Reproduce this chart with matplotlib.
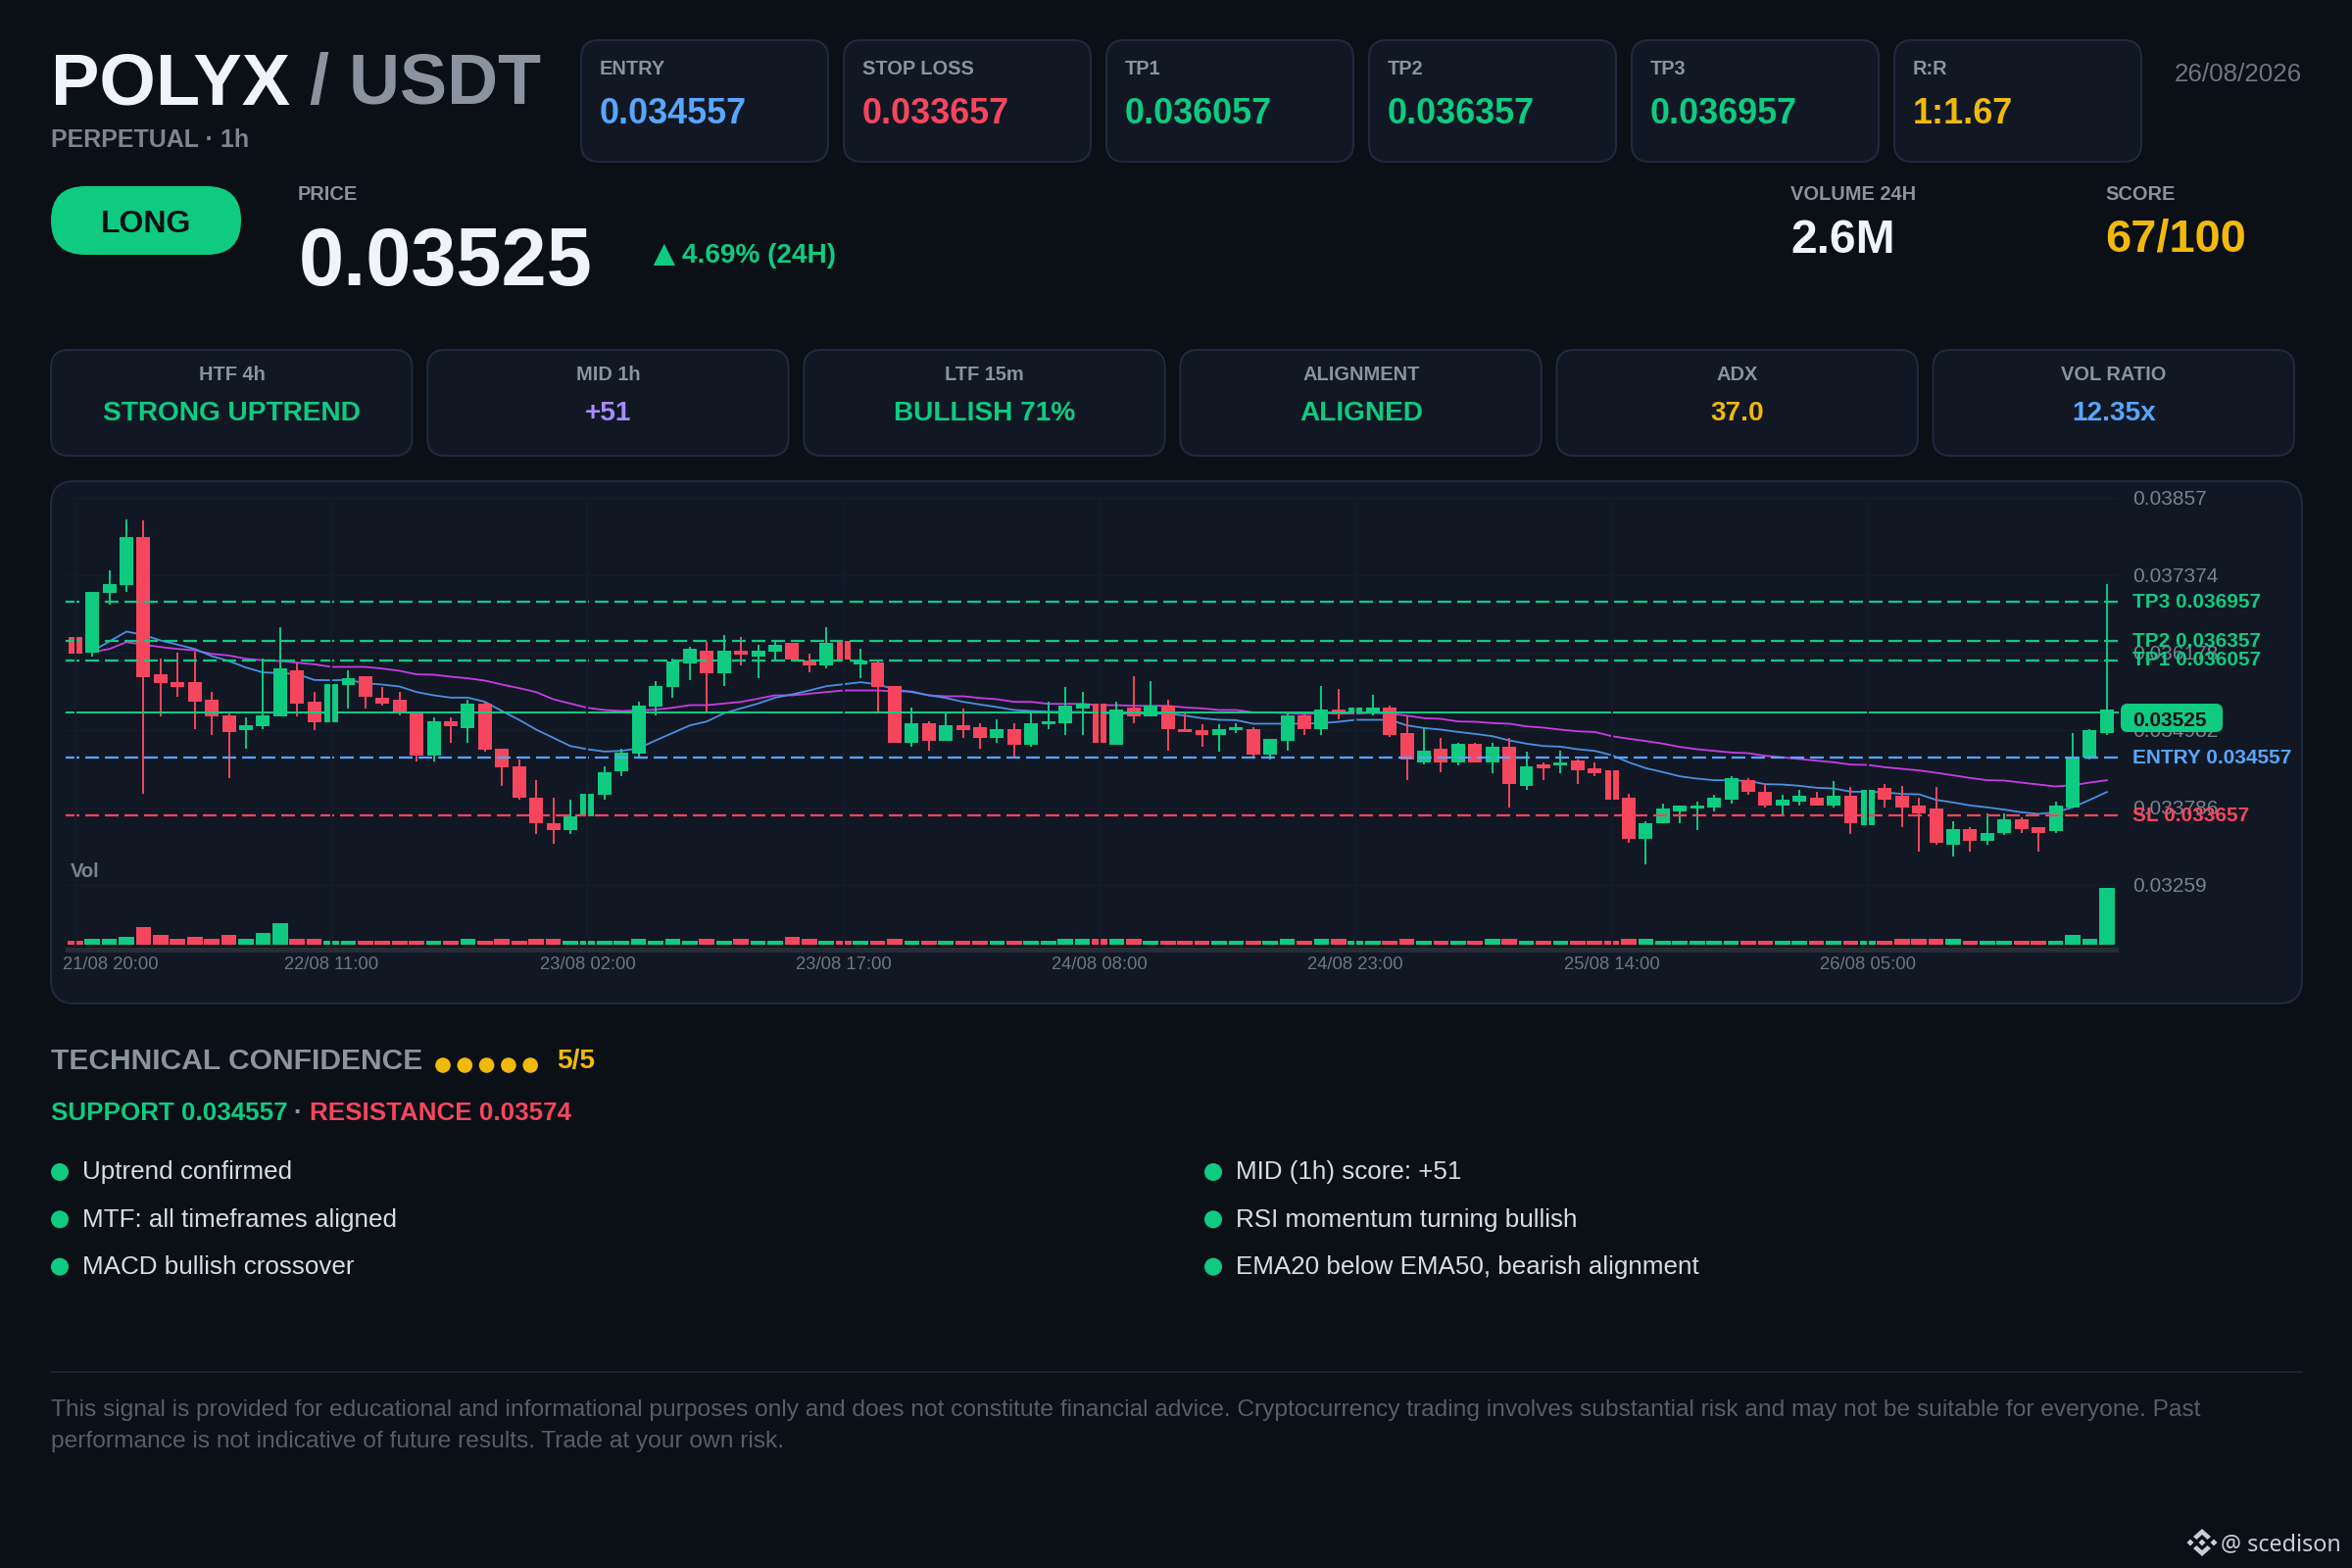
import numpy as np
import matplotlib
matplotlib.use("Agg")
import matplotlib.pyplot as plt
from matplotlib.patches import FancyBboxPatch, Rectangle, Circle, Polygon

plt.rcParams['font.family'] = ['Liberation Sans', 'DejaVu Sans']

BG = '#0b0f16'
CARD = '#111824'
EDGE = '#1f2a3d'
GREEN = '#0ecb81'
RED = '#f6465d'
BLUE = '#58a6ff'
GOLD = '#f0b90b'
PURPLE = '#a78bfa'
GRAY = '#8b949e'
WHITE = '#f0f4f8'

# --- candles, in millionths of USDT ---
opens = [36427, 36175, 37098, 37219, 37966, 35847, 35725, 35725, 35453, 35211, 34979, 35039, 35191, 35907, 35423,
         35100, 35675, 35816, 35483, 35453, 35246, 34585, 35120, 35009, 35392, 34696, 34424, 33939, 33551, 33435,
         33652, 33980, 34343, 34621, 35342, 35645, 36008, 36215, 35852, 36215, 36124, 36185, 36336, 36049, 35973,
         36366, 35998, 36033, 35670, 34792, 35095, 34822, 35059, 35029, 34853, 34999, 34762, 35065, 35090, 35317,
         35392, 34762, 35332, 35186, 35362, 34999, 34974, 34913, 34974, 35004, 34610, 34822, 35216, 35004, 35302,
         35246, 35246, 35332, 34938, 34489, 34696, 34489, 34762, 34489, 34726, 34126, 34454, 34429, 34514, 34398,
         34368, 33944, 33308, 33551, 33732, 33763, 33793, 33914, 34217, 34030, 33823, 33884, 33939, 33823, 33970,
         33520, 34091, 33970, 33818, 33763, 33218, 33455, 33278, 33399, 33606, 33485, 33424, 33793, 34560, 34938]
highs = [36427, 37118, 37451, 38243, 38218, 36089, 36175, 36200, 35579, 35241, 35181, 36089, 36578, 36023, 35579,
         35695, 35907, 35816, 35640, 35579, 35256, 35181, 35181, 35458, 35428, 34696, 34520, 34217, 33944, 33914,
         34005, 34424, 34696, 35423, 35731, 36089, 36275, 36341, 36457, 36427, 36306, 36366, 36336, 36159, 36578,
         36366, 36245, 36059, 35670, 35332, 35125, 35256, 35307, 35095, 35155, 35095, 35256, 35428, 35640, 35579,
         35392, 35428, 35821, 35731, 35458, 35246, 35065, 35065, 35095, 35034, 34848, 35256, 35246, 35670, 35610,
         35332, 35519, 35367, 35186, 35014, 34853, 34792, 34792, 34792, 34853, 34641, 34489, 34671, 34520, 34489,
         34368, 34005, 33581, 33853, 33818, 33884, 33975, 34277, 34247, 34156, 33975, 34065, 34035, 34187, 34096,
         34065, 34156, 34126, 33944, 34096, 33581, 33490, 33702, 33702, 33641, 33485, 33884, 34943, 35004, 37244]
lows = [36159, 36124, 36916, 37123, 34005, 35191, 35493, 35004, 34913, 34247, 34701, 35004, 35191, 35191, 34974,
        35100, 35307, 35307, 35367, 35216, 34494, 34494, 34792, 34792, 34646, 34126, 33914, 33374, 33223, 33374,
        33652, 33914, 34277, 34570, 35216, 35488, 35761, 35276, 35670, 35973, 35791, 36043, 36049, 35882, 35942,
        36064, 35791, 35276, 34792, 34731, 34671, 34822, 34853, 34701, 34792, 34580, 34731, 35004, 34913, 34913,
        34792, 34762, 35095, 35186, 34671, 34948, 34731, 34641, 34943, 34570, 34520, 34671, 34913, 34913, 35155,
        35246, 35216, 34883, 34217, 34459, 34338, 34429, 34489, 34308, 33793, 34065, 34217, 34308, 34156, 34277,
        33914, 33248, 32915, 33551, 33551, 33430, 33732, 33853, 33975, 33793, 33662, 33823, 33823, 33793, 33374,
        33520, 33793, 33490, 33097, 33218, 33036, 33097, 33218, 33369, 33399, 33097, 33399, 33793, 34520, 34913]
closes = [36159, 37118, 37244, 37966, 35796, 35705, 35640, 35428, 35191, 34948, 35059, 35206, 35937, 35397, 35100,
          35695, 35786, 35493, 35392, 35276, 34585, 35120, 35039, 35392, 34676, 34403, 33944, 33551, 33435, 33647,
          34005, 34333, 34636, 35362, 35670, 36043, 36245, 35852, 36215, 36154, 36215, 36301, 36064, 35973, 36336,
          36064, 36059, 35640, 34792, 35090, 34822, 35059, 34979, 34853, 34999, 34762, 35090, 35120, 35362, 35392,
          34792, 35302, 35186, 35362, 35004, 34948, 34913, 35004, 35029, 34610, 34848, 35216, 35004, 35302, 35226,
          35332, 35332, 34913, 34525, 34671, 34489, 34762, 34489, 34726, 34156, 34424, 34398, 34484, 34368, 34308,
          33914, 33308, 33551, 33763, 33818, 33818, 33944, 34247, 34035, 33823, 33909, 33970, 33823, 33970, 33551,
          34065, 33914, 33793, 33702, 33248, 33455, 33278, 33394, 33606, 33460, 33399, 33818, 34570, 34974, 35302]

# volume in arbitrary units
volumes = [60, 90, 90, 120, 270, 150, 90, 120, 90, 150, 90, 180, 330, 90, 90, 60, 60, 60, 60, 60, 60, 60, 60, 90,
           60, 90, 60, 90, 90, 60, 60, 60, 60, 90, 60, 90, 60, 90, 60, 90, 60, 60, 120, 90, 60, 60, 60, 60, 90, 60,
           60, 60, 60, 60, 60, 60, 60, 60, 90, 90, 90, 90, 90, 60, 60, 60, 60, 60, 60, 60, 60, 90, 60, 90, 90, 60,
           60, 60, 90, 60, 60, 60, 60, 90, 90, 60, 60, 60, 60, 60, 60, 90, 90, 60, 60, 60, 60, 60, 60, 60, 60, 60,
           60, 60, 60, 60, 60, 90, 90, 90, 90, 60, 60, 60, 60, 60, 60, 150, 90, 870]

# the two moving averages start at the second candle
ema_fast = [36200, 36351, 36503, 36452, 36366, 36301, 36235, 36124, 36049, 35948, 35872, 35862, 35847, 35756, 35751,
            35756, 35705, 35685, 35655, 35569, 35519, 35483, 35483, 35418, 35276, 35140, 34989, 34863, 34736, 34686,
            34651, 34661, 34701, 34822, 34938, 35054, 35115, 35241, 35317, 35392, 35483, 35534, 35594, 35660, 35690,
            35721, 35690, 35609, 35569, 35519, 35478, 35418, 35377, 35337, 35292, 35276, 35266, 35261, 35261, 35246,
            35236, 35236, 35236, 35236, 35206, 35165, 35140, 35135, 35080, 35080, 35080, 35080, 35090, 35110, 35140,
            35140, 35140, 35054, 35014, 34989, 34953, 34923, 34888, 34822, 34772, 34736, 34726, 34686, 34661, 34595,
            34484, 34393, 34333, 34267, 34232, 34207, 34207, 34197, 34146, 34141, 34121, 34091, 34080, 34030, 34030,
            34020, 33995, 33990, 33904, 33864, 33818, 33788, 33753, 33712, 33687, 33712, 33788, 33904, 34025]
ema_slow = [36185, 36235, 36341, 36301, 36265, 36235, 36215, 36159, 36134, 36084, 36059, 36049, 36023, 35998, 35958,
            35958, 35958, 35932, 35897, 35842, 35837, 35806, 35781, 35746, 35685, 35630, 35569, 35458, 35392, 35327,
            35292, 35276, 35287, 35297, 35327, 35367, 35367, 35392, 35418, 35468, 35519, 35519, 35544, 35569, 35594,
            35594, 35594, 35579, 35579, 35519, 35504, 35504, 35478, 35458, 35418, 35418, 35387, 35387, 35387, 35367,
            35367, 35357, 35357, 35357, 35332, 35317, 35292, 35292, 35256, 35256, 35241, 35231, 35241, 35241, 35236,
            35246, 35236, 35206, 35165, 35155, 35115, 35110, 35090, 35080, 35039, 35019, 34989, 34963, 34953, 34888,
            34848, 34812, 34772, 34721, 34686, 34661, 34636, 34625, 34585, 34560, 34535, 34509, 34484, 34449, 34444,
            34408, 34383, 34358, 34323, 34283, 34242, 34207, 34202, 34171, 34141, 34111, 34131, 34171, 34207]

price_now = 0.03525
levels = [('TP3 0.036957', 0.036957, GREEN), ('TP2 0.036357', 0.036357, GREEN), ('TP1 0.036057', 0.036057, GREEN),
          ('ENTRY 0.034557', 0.034557, BLUE), ('SL 0.033657', 0.033657, RED)]
axis_ticks = [0.03857, 0.037374, 0.036178, 0.034982, 0.033786, 0.03259]
axis_tick_labels = ['0.03857', '0.037374', '0.036178', '0.034982', '0.033786', '0.03259']
time_ticks = [0, 15, 30, 45, 60, 75, 90, 105]
time_labels = ['21/08 20:00', '22/08 11:00', '23/08 02:00', '23/08 17:00',
               '24/08 08:00', '24/08 23:00', '25/08 14:00', '26/08 05:00']

top_cards = [('ENTRY', '0.034557', BLUE), ('STOP LOSS', '0.033657', RED), ('TP1', '0.036057', GREEN),
             ('TP2', '0.036357', GREEN), ('TP3', '0.036957', GREEN), ('R:R', '1:1.67', GOLD)]
mid_cards = [('HTF 4h', 'STRONG UPTREND', GREEN), ('MID 1h', '+51', PURPLE), ('LTF 15m', 'BULLISH 71%', GREEN),
             ('ALIGNMENT', 'ALIGNED', GREEN), ('ADX', '37.0', GOLD), ('VOL RATIO', '12.35x', BLUE)]
bullets_left = ['Uptrend confirmed', 'MTF: all timeframes aligned', 'MACD bullish crossover']
bullets_right = ['MID (1h) score: +51', 'RSI momentum turning bullish', 'EMA20 below EMA50, bearish alignment']
disclaimer = ['This signal is provided for educational and informational purposes only and does not constitute '
              'financial advice. Cryptocurrency trading involves substantial risk and may not be suitable for '
              'everyone. Past',
              'performance is not indicative of future results. Trade at your own risk.']

fig = plt.figure(figsize=(24, 16), dpi=100, facecolor=BG)

# page axes in pixels, y going down, everything outside the chart sits here
page = fig.add_axes([0, 0, 1, 1], zorder=0)
page.set_xlim(0, 2400)
page.set_ylim(1600, 0)
page.axis('off')


def txt(x, yc, s, px, color, weight='normal', ha='left', zorder=5, **kw):
    # yc is the middle of the capitals, px the font size in pixels
    return page.text(x, yc + 0.36 * px, s, fontsize=px * 0.72, color=color, fontweight=weight,
                     ha=ha, va='baseline', zorder=zorder, **kw)


def card(x0, y0, x1, y1, radius=18, face=CARD, edge=EDGE, lw=1.5):
    page.add_patch(FancyBboxPatch((x0, y0), x1 - x0, y1 - y0, boxstyle=f'round,pad=0,rounding_size={radius}',
                                  fc=face, ec=edge, lw=lw, zorder=2))


# header
txt(52, 80, 'POLYX', 74, WHITE, 'bold')
txt(316, 80, '/ USDT', 72, GRAY, 'bold')
txt(52, 141, 'PERPETUAL · 1h', 25, '#7d8590', 'bold')
txt(2349, 74, '26/08/2026', 26, '#6e7681', ha='right')

for i, (label, value, color) in enumerate(top_cards):
    x0 = 593 + i * 268
    card(x0, 41, x0 + 252, 165)
    txt(x0 + 19, 69, label, 20, GRAY, 'bold')
    txt(x0 + 19, 113, value, 36, color, 'bold')

card(52, 190, 246, 260, radius=35, face=GREEN, edge=GREEN, lw=0)
txt(149, 225, 'LONG', 32, BG, 'bold', ha='center')

txt(304, 197, 'PRICE', 20, GRAY, 'bold')
txt(305, 261, '0.03525', 83, WHITE, 'bold')
txt(658, 257, '▲', 38, GREEN, 'bold')
txt(696, 258, '4.69% (24H)', 28, GREEN, 'bold')
txt(1827, 197, 'VOLUME 24H', 20, GRAY, 'bold')
txt(1827, 241, '2.6M', 48, WHITE, 'bold')
txt(2148, 197, 'SCORE', 20, GRAY, 'bold')
txt(2148, 240, '67/100', 47, GOLD, 'bold')

for i, (label, value, color) in enumerate(mid_cards):
    x0 = 52 + i * 384.1
    card(x0, 357, x0 + 368.5, 465)
    txt(x0 + 184.5, 381, label, 20, GRAY, 'bold', ha='center')
    txt(x0 + 184.5, 419, value, 28, color, 'bold', ha='center')

# chart panel and the band under the volume pane
card(52, 491, 2349, 1024, radius=24)
page.add_patch(Rectangle((67, 967), 2095, 5, fc='#262d36', ec='none', zorder=3))

# price pane, scale taken from the TP and SL lines
ax = fig.add_axes([67 / 2400, 1 - 963.5 / 1600, 2095 / 2400, 459 / 1600], zorder=1)
ax.patch.set_alpha(0)
ax.axis('off')
ax.set_xlim(-0.56, 119.7)
ax.set_ylim(0.031674, 0.038622)

x = np.arange(len(opens))
o = np.array(opens) * 1e-6
h = np.array(highs) * 1e-6
l = np.array(lows) * 1e-6
c = np.array(closes) * 1e-6
colors = [GREEN if cc >= oo else RED for oo, cc in zip(o, c)]

ax.hlines(axis_ticks, -0.56, 119.7, color='#161e2b', lw=0.8, zorder=1)
ax.plot(x[1:], np.array(ema_slow) * 1e-6, color='#c83ce6', lw=1.3, zorder=2)
ax.plot(x[1:], np.array(ema_fast) * 1e-6, color='#4a90e2', lw=1.3, zorder=2)
ax.vlines(x, l, h, color=colors, lw=1.4, zorder=3)
ax.bar(x, np.maximum(np.abs(c - o), 1e-5), bottom=np.minimum(o, c), width=0.8, color=colors, zorder=4)

for label, value, color in levels:
    ax.plot([-0.56, 119.7], [value, value], color=color, lw=1.6, dashes=(6.3, 2.7), zorder=5)
ax.plot([-0.56, 119.7], [price_now, price_now], color=GREEN, lw=1.44, zorder=6)

# the vertical grid is painted over the candles in the reference
ax.vlines(time_ticks, 0.031674, axis_ticks[0], color='#141b28', lw=1.5, zorder=8)

# volume pane
vax = fig.add_axes([67 / 2400, 1 - 964 / 1600, 2095 / 2400, 58 / 1600], zorder=2)
vax.patch.set_alpha(0)
vax.axis('off')
vax.set_xlim(-0.56, 119.7)
vax.set_ylim(0, max(volumes))
vax.bar(x, volumes, width=0.9, color=colors)
vax.vlines(time_ticks, 0, max(volumes), color='#141b28', lw=1.5, zorder=8)

# labels of the right hand scale, then the level labels, then the price badge on top
yaxis_tr = ax.get_yaxis_transform()
for value, label in zip(axis_ticks, axis_tick_labels):
    ax.text(1.0067, value, label, transform=yaxis_tr, fontsize=15, color='#7a828c', va='center_baseline',
            clip_on=False, zorder=9)
for label, value, color in levels:
    ax.text(1.0067, value, label, transform=yaxis_tr, fontsize=15, color=color, fontweight='bold',
            va='center', clip_on=False, zorder=10)

badge = FancyBboxPatch((2164, 718), 104, 29, boxstyle='round,pad=0,rounding_size=7', fc=GREEN, ec='none',
                       transform=page.transData, clip_on=False, zorder=11)
ax.add_patch(badge)
ax.text(2176, 741, '0.03525', transform=page.transData, fontsize=15, color=BG, fontweight='bold', va='baseline',
        clip_on=False, zorder=12)
ax.text(72, 895, 'Vol', transform=page.transData, fontsize=14.5, color='#7a828c', fontweight='bold', va='baseline',
        clip_on=False, zorder=9)

# time labels, the first one is pushed right so it stays inside the panel
for tick, label in zip(time_ticks, time_labels):
    px = 76.8 + 17.42 * tick
    if tick == 0:
        txt(64, 982, label, 18.5, '#6e7681')
    else:
        txt(px, 982, label, 18.5, '#6e7681', ha='center')

# confidence block
txt(52, 1080, 'TECHNICAL CONFIDENCE', 30, GRAY, 'bold')
for i in range(5):
    page.add_patch(Circle((452 + i * 22.3, 1087), 7.8, fc=GOLD, ec='none', zorder=5))
txt(568, 1080, '5/5', 28, GOLD, 'bold')
txt(52, 1134, 'SUPPORT 0.034557', 26, GREEN, 'bold')
txt(304, 1134, '·', 26, GRAY, 'bold', ha='center')
txt(316, 1134, 'RESISTANCE 0.03574', 26, RED, 'bold')

for col_x, items in ((61, bullets_left), (1238, bullets_right)):
    for i, item in enumerate(items):
        yc = 1195 + i * 48.3
        page.add_patch(Circle((col_x, yc + 1), 9, fc=GREEN, ec='none', zorder=5))
        txt(col_x + 23, yc - 1, item, 26, '#d8dde3')

page.plot([52, 2349], [1400, 1400], color='#1a2230', lw=1.5, zorder=2)
txt(52, 1436, disclaimer[0], 24.5, '#565e6a')
txt(52, 1468, disclaimer[1], 24.5, '#565e6a')

# small diamond logo and handle in the corner
lx, ly = 2247, 1574
for dx, dy in ((-12, 0), (12, 0), (0, 0)):
    page.add_patch(Polygon([(lx + dx - 3.5, ly + dy), (lx + dx, ly + dy - 3.5), (lx + dx + 3.5, ly + dy),
                            (lx + dx, ly + dy + 3.5)], fc='#c9ced6', ec='none', zorder=5))
for sign in (-1, 1):
    page.add_patch(Polygon([(lx - 9, ly + sign * 6), (lx, ly + sign * 14), (lx + 9, ly + sign * 6),
                            (lx + 5.5, ly + sign * 3), (lx, ly + sign * 8), (lx - 5.5, ly + sign * 3)],
                           fc='#c9ced6', ec='none', zorder=5))
page.text(2266, 1582, '@ scedison', fontsize=16.8, color='#c9ced6', family='Noto Sans', va='baseline', zorder=5)

fig.savefig('out.png', dpi=100, facecolor=BG)
